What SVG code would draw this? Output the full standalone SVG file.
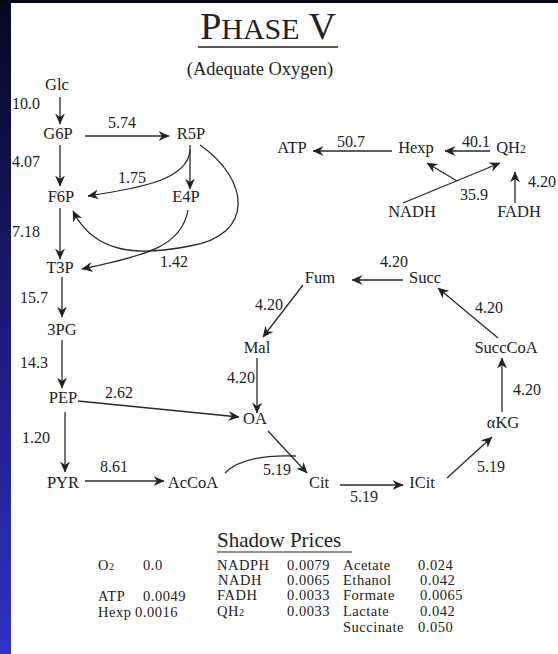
<svg xmlns="http://www.w3.org/2000/svg" width="558" height="654" viewBox="0 0 558 654">
<defs>
<linearGradient id="bg" x1="0" y1="0" x2="0" y2="1">
<stop offset="0" stop-color="#07071f"/>
<stop offset="0.5" stop-color="#1a1a78"/>
<stop offset="1" stop-color="#3131c8"/>
</linearGradient>
<marker id="ah" viewBox="0 0 11 10" refX="10.5" refY="5" markerWidth="11" markerHeight="10" markerUnits="userSpaceOnUse" orient="auto">
<path d="M0,0 L11,5 L0,10 L3.5,5 z" fill="#222"/>
</marker>
<style>
text{font-family:"Liberation Serif","Times New Roman",serif;fill:#222;font-size:16.5px}
.n{text-anchor:middle}
.e{font-size:16px}
.c{fill:none;stroke:#2a2a2a;stroke-width:1.3}
.a{marker-end:url(#ah)}
.s{font-size:70%}
.t text{font-size:14.5px;letter-spacing:0.5px}
</style>
</defs>
<rect x="0" y="0" width="558" height="654" fill="url(#bg)"/>
<rect x="0" y="0" width="558" height="3" fill="#050518"/>
<rect x="11" y="3" width="547" height="651" fill="#ffffff"/>

<g id="title">
<text x="268" y="39" class="n" style="font-size:38px">P<tspan style="font-size:30px">HASE</tspan> V</text>
<line x1="198" y1="47" x2="338" y2="47" stroke="#222" stroke-width="1.3"/>
<text x="260" y="75" class="n" style="font-size:18.5px">(Adequate Oxygen)</text>
</g>

<g id="connectors">
<path class="c a" d="M60,97 L60,124"/>
<path class="c a" d="M85,136 L169,136"/>
<path class="c a" d="M60,145 L60,186"/>
<path class="c a" d="M190,145 L190,189"/>
<path class="c a" d="M190,150 C188,180 140,188 88,196"/>
<path class="c a" d="M60,208 L60,259"/>
<path class="c a" d="M188,210 C182,245 150,255 82,269"/>
<path class="c a" d="M200,145 C250,180 255,235 190,246 C140,256 95,255 73,211"/>
<path class="c a" d="M62,277 L62,317"/>
<path class="c a" d="M62,340 L62,388"/>
<path class="c a" d="M78,401 L239,417"/>
<path class="c a" d="M65,412 L65,472"/>
<path class="c a" d="M85,481 L164,481"/>
<path class="c" d="M225,473 C240,458 270,455 296,456"/>
<path class="c a" d="M268,431 L307,473"/>
<path class="c a" d="M257,358 L257,413"/>
<path class="c a" d="M303,285 L263,337"/>
<path class="c a" d="M403,280 L352,280"/>
<path class="c a" d="M498,338 L438,288"/>
<path class="c a" d="M502,412 L502,358"/>
<path class="c a" d="M447,478 L492,437"/>
<path class="c a" d="M340,485 L403,485"/>
<path class="c a" d="M392,151 L313,151"/>
<path class="c a" d="M490,151 L445,151"/>
<path class="c a" d="M403,203 L500,163"/>
<path class="c a" d="M457,181 L427,163"/>
<path class="c a" d="M515,203 L515,172"/>
</g>

<g id="edge-labels">
<text x="12" y="109" class="e">10.0</text>
<text x="108" y="128" class="e">5.74</text>
<text x="12" y="167" class="e">4.07</text>
<text x="118" y="183" class="e">1.75</text>
<text x="12" y="237" class="e">7.18</text>
<text x="160" y="267" class="e">1.42</text>
<text x="20" y="303" class="e">15.7</text>
<text x="20" y="368" class="e">14.3</text>
<text x="105" y="398" class="e">2.62</text>
<text x="22" y="443" class="e">1.20</text>
<text x="100" y="472" class="e">8.61</text>
<text x="227" y="383" class="e">4.20</text>
<text x="263" y="475" class="e">5.19</text>
<text x="350" y="502" class="e">5.19</text>
<text x="477" y="472" class="e">5.19</text>
<text x="513" y="395" class="e">4.20</text>
<text x="475" y="313" class="e">4.20</text>
<text x="380" y="267" class="e">4.20</text>
<text x="255" y="310" class="e">4.20</text>
<text x="337" y="147" class="e">50.7</text>
<text x="462" y="147" class="e">40.1</text>
<text x="460" y="200" class="e">35.9</text>
<text x="528" y="187" class="e">4.20</text>
</g>

<g id="Glc"><text x="57" y="90" class="n">Glc</text></g>
<g id="G6P"><text x="58" y="139" class="n">G6P</text></g>
<g id="R5P"><text x="191" y="139" class="n">R5P</text></g>
<g id="F6P"><text x="61" y="202" class="n">F6P</text></g>
<g id="E4P"><text x="186" y="202" class="n">E4P</text></g>
<g id="T3P"><text x="60" y="273" class="n">T3P</text></g>
<g id="PG3"><text x="62" y="335" class="n">3PG</text></g>
<g id="PEP"><text x="63" y="403" class="n">PEP</text></g>
<g id="PYR"><text x="63" y="488" class="n">PYR</text></g>
<g id="AcCoA"><text x="193" y="488" class="n">AcCoA</text></g>
<g id="OA"><text x="255" y="424" class="n">OA</text></g>
<g id="Mal"><text x="257" y="353" class="n">Mal</text></g>
<g id="Fum"><text x="320" y="283" class="n">Fum</text></g>
<g id="Succ"><text x="425" y="283" class="n">Succ</text></g>
<g id="SuccCoA"><text x="506" y="353" class="n">SuccCoA</text></g>
<g id="aKG"><text x="503" y="428" class="n">αKG</text></g>
<g id="ICit"><text x="422" y="488" class="n">ICit</text></g>
<g id="Cit"><text x="319" y="488" class="n">Cit</text></g>
<g id="ATP"><text x="292" y="153" class="n">ATP</text></g>
<g id="Hexp"><text x="416" y="153" class="n">Hexp</text></g>
<g id="QH2"><text x="511" y="153" class="n">QH<tspan class="s">2</tspan></text></g>
<g id="NADH"><text x="412" y="217" class="n">NADH</text></g>
<g id="FADH"><text x="519" y="217" class="n">FADH</text></g>

<g id="shadow-prices">
<text x="217" y="547" style="font-size:21px">Shadow Prices</text>
<line x1="217" y1="552" x2="352" y2="552" stroke="#222" stroke-width="1.1"/>
<g class="t">
<text x="98" y="570">O<tspan class="s">2</tspan></text>
<text x="143" y="570">0.0</text>
<text x="98" y="601">ATP</text>
<text x="143" y="601">0.0049</text>
<text x="98" y="617">Hexp</text>
<text x="135" y="617">0.0016</text>
<text x="217" y="570">NADPH</text>
<text x="287" y="570">0.0079</text>
<text x="343" y="570">Acetate</text>
<text x="418" y="570">0.024</text>
<text x="218" y="585">NADH</text>
<text x="287" y="585">0.0065</text>
<text x="343" y="585">Ethanol</text>
<text x="420" y="585">0.042</text>
<text x="217" y="600">FADH</text>
<text x="287" y="600">0.0033</text>
<text x="343" y="600">Formate</text>
<text x="420" y="600">0.0065</text>
<text x="217" y="616">QH<tspan class="s">2</tspan></text>
<text x="287" y="616">0.0033</text>
<text x="343" y="616">Lactate</text>
<text x="420" y="616">0.042</text>
<text x="343" y="632">Succinate</text>
<text x="418" y="632">0.050</text>
</g>
</g>
</svg>
